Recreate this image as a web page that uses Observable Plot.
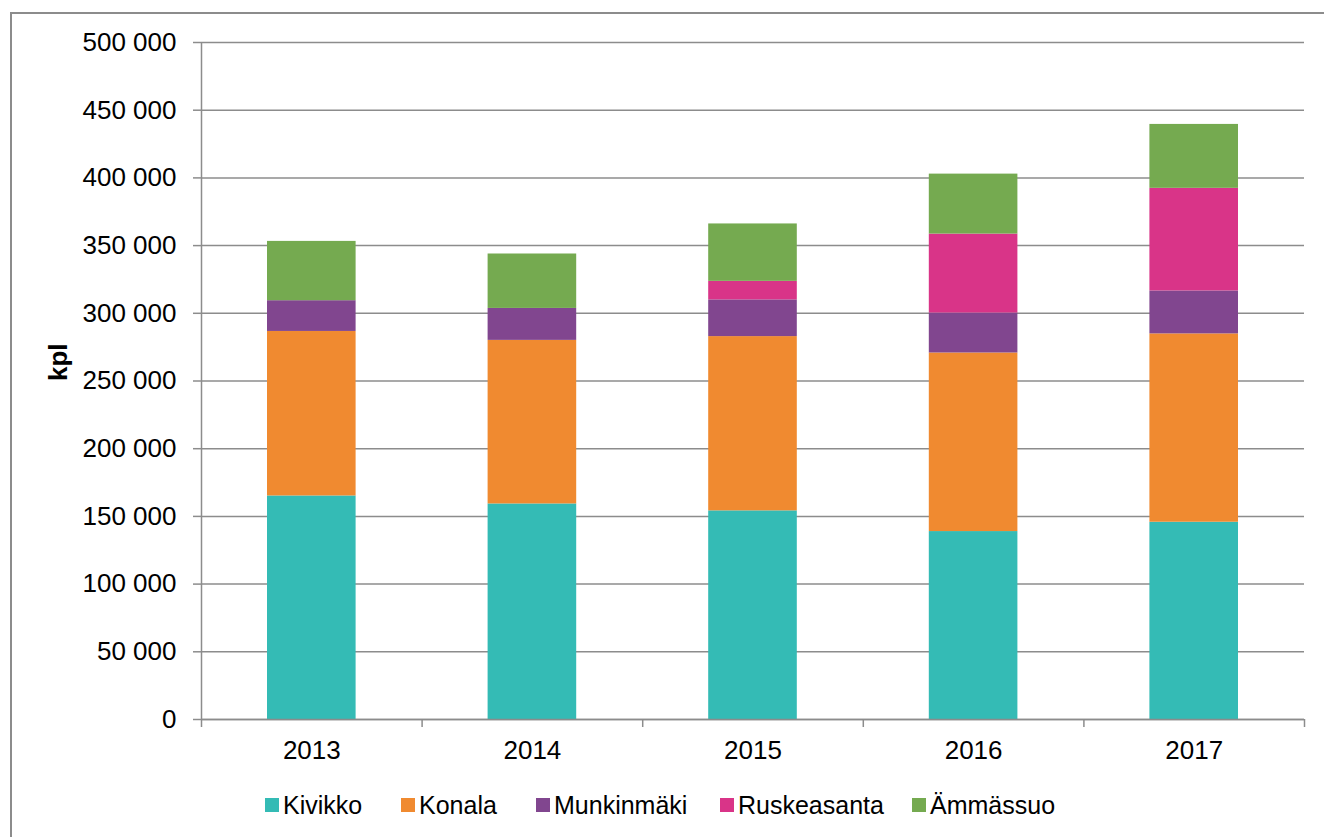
<!DOCTYPE html>
<html>
<head>
<meta charset="utf-8">
<script src="https://cdn.jsdelivr.net/npm/d3@7"></script>
<script src="https://cdn.jsdelivr.net/npm/@observablehq/plot@0.6"></script>
<style>
  html, body { margin: 0; padding: 0; background: #fff; }
  #wrap { position: relative; width: 1324px; height: 837px; overflow: hidden; font-family: "Liberation Sans", Arial, sans-serif; }
  #frame { position: absolute; left: 10px; top: 12px; width: 1400px; height: 900px; border-left: 2px solid #8c8c8c; border-top: 2px solid #8c8c8c; }
  #chart { position: absolute; left: 0; top: 0; }
  #legend { position: absolute; left: 265px; top: 790px; display: flex; align-items: center; font-size: 25px; line-height: 30px; color: #000; white-space: nowrap; }
  .item { display: flex; align-items: center; }
  .item:nth-child(1) { width: 136px; }
  .item:nth-child(2) { width: 135px; }
  .item:nth-child(3) { width: 184px; }
  .item:nth-child(4) { width: 192px; }
  .sw { width: 14px; height: 14px; margin-right: 4px; flex: none; }
</style>
</head>
<body>
<div id="wrap">
  <div id="frame"></div>
  <div id="chart"></div>
  <div id="legend"></div>
</div>
<script>
const years = [2013, 2014, 2015, 2016, 2017];
const seriesNames = ["Kivikko", "Konala", "Munkinmäki", "Ruskeasanta", "Ämmässuo"];
const kivikko     = [165100, 159200, 154100, 138800, 145700];
const konala      = [121500, 120800, 128700, 131900, 139100];
const munkinmaki  = [22700, 23600, 27100, 29500, 31700];
const ruskeasanta = [0, 0, 13700, 58300, 75800];
const ammassuo    = [43800, 40200, 42400, 44300, 47200];
const colors = ["#34bbb5", "#f08a30", "#81468f", "#d93488", "#75aa50"];
const yTicks = d3.range(0, 500001, 50000);
const yLabel = "kpl";

const seriesValues = [kivikko, konala, munkinmaki, ruskeasanta, ammassuo];
const wide = years.map((yr, i) => {
  const o = {i, year: yr};
  seriesNames.forEach((s, k) => { o[s] = seriesValues[k][i]; });
  return o;
});
const stacked = d3.stack().keys(seriesNames)(wide);
const rows = stacked.flatMap(layer => layer.map(d => ({
  series: layer.key, i: d.data.i, y1: d[0], y2: d[1]
}))).filter(d => d.y2 > d.y1);

const fmt = v => d3.format(",")(v).replace(/,/g, " ");
const gray = "#8c8c8c";

const chart = Plot.plot({
  width: 1324,
  height: 760,
  marginLeft: 201,
  marginRight: 20,
  marginTop: 42,
  marginBottom: 41,
  style: { fontFamily: "'Liberation Sans', Arial, sans-serif", fontSize: "26px", color: "#000", background: "transparent", overflow: "visible" },
  x: { type: "linear", domain: [0, years.length] },
  y: { domain: [0, 500000] },
  color: { domain: seriesNames, range: colors },
  marks: [
    Plot.gridY(yTicks, { stroke: gray, strokeOpacity: 1, strokeWidth: 1.5 }),
    Plot.rect(rows, { x1: "i", x2: d => d.i + 1, y1: "y1", y2: "y2", fill: "series", insetLeft: 66, insetRight: 66 }),
    Plot.ruleX([0], { stroke: gray, strokeWidth: 1.5 }),
    Plot.ruleY([0], { stroke: gray, strokeWidth: 1.5 }),
    Plot.axisY({ ticks: yTicks, tickSize: 8, tickPadding: 17, tickFormat: fmt, stroke: gray, strokeWidth: 1.5, fontSize: 26, label: null }),
    Plot.axisX({ ticks: d3.range(0, years.length + 1), tickSize: 8, tickFormat: () => "", stroke: gray, strokeWidth: 1.5, label: null }),
    Plot.axisX({ ticks: years.map((y, i) => i + 0.5), tickSize: 0, tickPadding: 21, tickFormat: d => String(years[Math.floor(d)]), fontSize: 26, label: null }),
    Plot.text([yLabel], { frameAnchor: "left", dx: -143, rotate: -90, fontWeight: "bold", fontSize: 26, fill: "#000" })
  ]
});
document.getElementById("chart").appendChild(chart);

const legend = document.getElementById("legend");
seriesNames.forEach((s, k) => {
  const item = document.createElement("div");
  item.className = "item";
  const sw = document.createElement("div");
  sw.className = "sw";
  sw.style.background = colors[k];
  const t = document.createElement("span");
  t.textContent = s;
  item.appendChild(sw);
  item.appendChild(t);
  legend.appendChild(item);
});
</script>
</body>
</html>
